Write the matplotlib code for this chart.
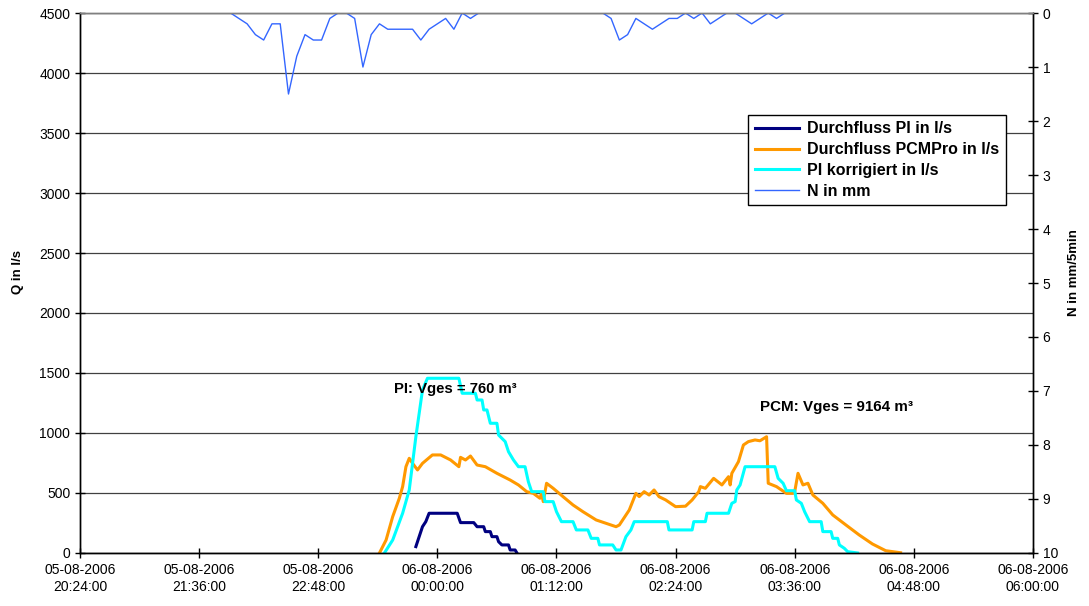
import pandas as pd
import numpy as np
import matplotlib.pyplot as plt
import matplotlib.dates as mdates

plt.rcParams['font.family'] = ['Liberation Sans', 'DejaVu Sans']

# Durchfluss PI (l/s)
pi_times = ['23:47', '23:51', '23:53', '23:55', '00:12', '00:14', '00:22', '00:24', '00:28',
            '00:29', '00:32', '00:33', '00:36', '00:37', '00:39', '00:43', '00:44', '00:47', '00:48']
pi_values = [53, 219, 261, 331, 331, 253, 253, 219, 219,
             178, 178, 136, 136, 94, 67, 67, 25, 25, 2]

# Durchfluss PCMPro (l/s)
pcm_times = ['23:25', '23:29', '23:33', '23:37', '23:39', '23:41', '23:43', '23:45', '23:48', '23:51',
             '23:57', '00:02', '00:08', '00:13', '00:14', '00:17', '00:20', '00:24', '00:29', '00:36',
             '00:44', '00:49', '00:54', '00:58', '01:02', '01:03', '01:04', '01:06', '01:10', '01:16',
             '01:22', '01:28', '01:36', '01:42', '01:48', '01:50', '01:56', '02:00', '02:02', '02:05',
             '02:08', '02:11', '02:14', '02:18', '02:24', '02:30', '02:34', '02:38', '02:39', '02:42',
             '02:47', '02:52', '02:56', '02:57', '02:58', '03:02', '03:05', '03:08', '03:12', '03:15',
             '03:19', '03:20', '03:25', '03:28', '03:31', '03:35', '03:36', '03:38', '03:41', '03:44',
             '03:47', '03:53', '03:59', '04:07', '04:15', '04:23', '04:31', '04:40']
pcm_values = [0, 108, 303, 456, 553, 719, 789, 747, 692, 747,
              817, 817, 775, 719, 797, 775, 808, 733, 719, 664,
              608, 567, 511, 497, 456, 497, 428, 581, 539, 469,
              400, 344, 275, 247, 219, 233, 358, 497, 470, 511,
              483, 525, 469, 442, 386, 390, 442, 511, 553, 539,
              622, 567, 636, 567, 664, 761, 900, 928, 942, 935,
              969, 581, 553, 525, 497, 497, 510, 664, 567, 581,
              483, 414, 317, 233, 150, 75, 19, 2]

# PI korrigiert (l/s)
kor_times = ['23:28', '23:33', '23:39', '23:43', '23:47', '23:51', '23:54', '00:13', '00:15', '00:23',
             '00:24', '00:27', '00:28', '00:30', '00:32', '00:36', '00:37', '00:41', '00:43', '00:46',
             '00:49', '00:53', '00:55', '00:57', '01:04', '01:05', '01:10', '01:12', '01:15', '01:22',
             '01:24', '01:31', '01:33', '01:37', '01:38', '01:46', '01:48', '01:51', '01:54', '01:57',
             '01:59', '02:19', '02:20', '02:34', '02:35', '02:42', '02:43', '02:56', '02:58', '03:00',
             '03:01', '03:03', '03:06', '03:24', '03:26', '03:29', '03:31', '03:36', '03:37', '03:40',
             '03:42', '03:45', '03:52', '03:53', '03:58', '03:59', '04:02', '04:03', '04:06', '04:08',
             '04:14']
kor_values = [0, 108, 331, 525, 969, 1358, 1456, 1456, 1331, 1331,
              1275, 1275, 1192, 1192, 1081, 1081, 983, 928, 844, 775,
              719, 719, 594, 511, 511, 428, 428, 344, 261, 261,
              192, 192, 122, 122, 67, 67, 25, 25, 136, 192,
              261, 261, 192, 192, 261, 261, 331, 331, 414, 428,
              525, 567, 719, 719, 622, 581, 519, 519, 442, 414,
              344, 261, 261, 178, 178, 122, 122, 67, 39, 11,
              0]

# Niederschlag N (mm/5min), 5-minute steps from 21:55
n_start = '21:55'
n_values = [0, 0.1, 0.2, 0.4, 0.5, 0.2, 0.2, 1.5, 0.8, 0.4,
            0.5, 0.5, 0.1, 0, 0, 0.1, 1.0, 0.4, 0.2, 0.3,
            0.3, 0.3, 0.3, 0.5, 0.3, 0.2, 0.1, 0.3, 0, 0.1,
            0, 0, 0, 0, 0, 0, 0, 0, 0, 0,
            0, 0, 0, 0, 0, 0, 0.1, 0.5, 0.4, 0.1,
            0.2, 0.3, 0.2, 0.1, 0.1, 0, 0.1, 0, 0.2, 0.1,
            0, 0, 0.1, 0.2, 0.1, 0, 0.1, 0]

pi_text = 'PI: Vges = 760 m³'
pcm_text = 'PCM: Vges = 9164 m³'


def ToDate(t):
    # times from 20:00 belong to 05-08, the rest to 06-08
    day = '2006-08-05' if int(t[:2]) >= 20 else '2006-08-06'
    return pd.Timestamp(f'{day} {t}')


pi_x = [ToDate(t) for t in pi_times]
pcm_x = [ToDate(t) for t in pcm_times]
kor_x = [ToDate(t) for t in kor_times]
n_x = pd.date_range(ToDate(n_start), periods=len(n_values), freq='5min')

fig = plt.figure(figsize=(10.89, 6.06), dpi=100)
ax = fig.add_axes([0.0735, 0.0875, 0.875, 0.891])
ax2 = ax.twinx()

l1, = ax.plot(pi_x, pi_values, color='#000080', lw=2.2, label='Durchfluss PI in l/s')
l2, = ax.plot(pcm_x, pcm_values, color='#FF9900', lw=2.2, label='Durchfluss PCMPro in l/s')
l3, = ax.plot(kor_x, kor_values, color='#00FFFF', lw=2.2, label='PI korrigiert in l/s')
l4, = ax2.plot(n_x, n_values, color='#3366FF', lw=1.0, label='N in mm')

x0 = pd.Timestamp('2006-08-05 20:24')
x1 = pd.Timestamp('2006-08-06 06:00')
ax.set_xlim(x0, x1)
ax.set_ylim(0, 4500)
ax.set_yticks(np.arange(0, 4501, 500))
ax.yaxis.grid(True, color='#404040', lw=0.9)
ax.set_axisbelow(True)
ax.set_xticks(pd.date_range(x0, x1, freq='72min'))
ax.xaxis.set_major_formatter(mdates.DateFormatter('%d-%m-%Y\n%H:%M:%S'))

ax2.set_ylim(10, 0)
ax2.set_yticks(range(0, 11))

for a in (ax, ax2):
    a.tick_params(direction='inout', length=7, width=1, labelsize=10, colors='black')
    for s in a.spines.values():
        s.set_linewidth(1.0)
ax.spines['top'].set_color('#808080')
ax2.spines['top'].set_color('#808080')
ax.tick_params(axis='x', pad=4)

ax.set_ylabel('Q in l/s', fontsize=9.5, fontweight='bold')
ax.yaxis.set_label_coords(-0.059, 0.52)
ax2.set_ylabel('N in mm/5min', fontsize=9.5, fontweight='bold')
ax2.yaxis.set_label_coords(1.037, 0.52)

ax.text(ToDate('23:34'), 1367, pi_text, fontsize=10.7, fontweight='bold', va='center')
ax.text(ToDate('03:15'), 1217, pcm_text, fontsize=10.9, fontweight='bold', va='center')

leg = ax2.legend(handles=[l1, l2, l3, l4], loc='upper left', bbox_to_anchor=(0.693, 0.826),
                 fancybox=False, framealpha=1, edgecolor='black', handlelength=2.8,
                 borderpad=0.4, labelspacing=0.36, handletextpad=0.5,
                 prop={'weight': 'bold', 'size': 11.5})
leg.get_frame().set_linewidth(1.0)

plt.savefig('out.png', dpi=100)
